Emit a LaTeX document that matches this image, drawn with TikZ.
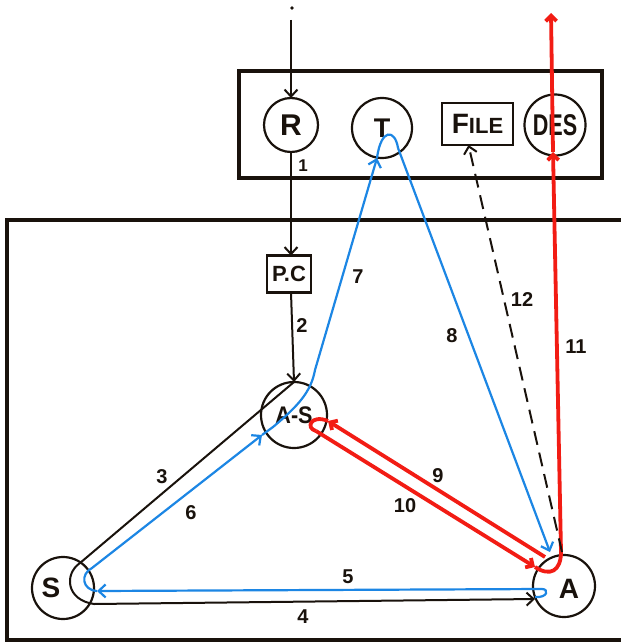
\documentclass[tikz,border=0pt]{standalone}
\usepackage{fontspec}
\setmainfont{Liberation Sans}
\usetikzlibrary{arrows.meta}
\definecolor{bl}{RGB}{28,134,228}
\definecolor{rd}{RGB}{242,28,20}
\definecolor{ink}{RGB}{25,18,12}
\begin{document}
\begin{tikzpicture}[x=1pt,y=-1pt,
  every node/.style={inner sep=0pt,outer sep=0pt,text=ink,font=\bfseries},
  circ/.style={draw=ink,circle,line width=2.2pt,minimum size=#1},
  boxn/.style={draw=ink,line width=2.2pt},
  frame/.style={draw=ink,line width=3.2pt},
  blk/.style={draw=ink,line width=2pt},
  blu/.style={draw=bl,line width=2.2pt},
  rdp/.style={draw=rd,line width=3.8pt},
  tip/.style={-{Straight Barb[length=7pt,width=13pt]}},
  rtip/.style={-{Straight Barb[length=5.5pt,width=11pt]}},
  lbl/.style={font=\fontsize{20}{20}\selectfont\bfseries}
]
\useasboundingbox (0,0) rectangle (620,644);
\fill[white] (0,0) rectangle (620,644);

% frames
\draw[frame] (239,71) rectangle (602,178);
\draw[frame] (7,220) rectangle (640,640);

% nodes
\node[circ=54pt] (R) at (291,125) {\fontsize{30}{30}\selectfont\bfseries R};
\node[circ=60pt] (T) at (382,128) {\fontsize{27}{27}\selectfont\bfseries T};
\node[boxn,minimum width=71pt,minimum height=42pt] (file) at (477.5,124) {\fontsize{28}{28}\selectfont\bfseries F\fontsize{22}{22}\selectfont ILE};
\node[circ=61pt] (des) at (555,125) {\fontsize{30}{30}\selectfont\bfseries\scalebox{0.72}[1]{DES}};
\node[boxn,minimum width=44pt,minimum height=37pt] (pc) at (289,274) {\fontsize{22}{22}\selectfont\bfseries P.C};
\node[circ=66pt] (as) at (294,415) {\fontsize{24}{24}\selectfont\bfseries\scalebox{0.9}[1]{A-S}};
\node[circ=62pt] (S) at (63,588) {};
\node (Stext) at (51,588) {\fontsize{28}{28}\selectfont\bfseries S};
\node[circ=62pt] (A) at (564,586) {};
\node (Atext) at (569,589) {\fontsize{28}{28}\selectfont\bfseries A};

% black path
\fill[ink] (292,8) circle (1.8pt);
\coordinate (top) at (291,20);
\draw[blk,tip] (top) -- (R.north);
\draw[blk,tip] (R.south) -- (R.south |- pc.north);
\draw[blk,tip] (R.south |- pc.south) -- (as.north);
\coordinate (b1) at (80,563);
\coordinate (b2) at (94,604);
\coordinate (b3) at (535,599);
\draw[blk,tip] (as.north) -- (b1) .. controls (64,574) and (66,600) .. (b2) -- (b3);

% blue path
\coordinate (u1) at (535,597);
\coordinate (u2) at (542,589);
\coordinate (u3) at (97,591);
\coordinate (u4) at (92,568);
\coordinate (u5) at (262,435);
\coordinate (u6) at (315,370);
\coordinate (u7) at (377,158);
\coordinate (u8) at (398,148);
\coordinate (u9) at (550,552);
\draw[blu,tip] (u1) .. controls (548,598) and (549,589) .. (u2) -- (u3);
\draw[blu,tip] (u3) .. controls (82,590) and (80,574) .. (u4) -- (u5);
\draw[blu,tip] (u5) -- (273,427) .. controls (298,406) and (311,392) .. (u6) -- (u7);
\draw[blu] (u7) .. controls (381,128) and (395,129) .. (u8);
\draw[blu,tip] (u8) -- (u9);

% red path
\coordinate (r1) at (545,557);
\coordinate (r2) at (328,421);
\coordinate (r3) at (316,431);
\coordinate (r4) at (535,567);
\coordinate (r5) at (561,552);
\coordinate (r6) at (553,152);
\coordinate (r7) at (551,13);
\draw[rdp,rtip] (r1) -- (r2);
\draw[rdp] (r2) .. controls (311,414) and (305,428) .. (r3);
\draw[rdp,rtip] (r3) -- (r4);
\draw[rdp] (r4) .. controls (550,577) and (561,571) .. (r5);
\draw[rdp,rtip] (r5) -- (r6);
\draw[rdp,rtip] (r6) -- (r7);

% dashed 12
\coordinate (d1) at (562,552);
\draw[blk,dashed,dash pattern=on 14pt off 8pt,tip] (d1) -- ([xshift=-9pt]file.south);

% labels
\node[lbl,font=\fontsize{17}{17}\selectfont\bfseries] (n1) at (303,166) {1};
\node[lbl] (n2) at (302,326) {2};
\node[lbl] (n3) at (162,477) {3};
\node[lbl] (n4) at (303,617) {4};
\node[lbl] (n5) at (348,577) {5};
\node[lbl] (n6) at (191,513) {6};
\node[lbl] (n7) at (358,277) {7};
\node[lbl] (n8) at (452,336) {8};
\node[lbl] (n9) at (438,476) {9};
\node[lbl] (n10) at (405,506) {10};
\node[lbl] (n11) at (576,347) {11};
\node[lbl] (n12) at (522,300) {12};
\end{tikzpicture}
\end{document}
